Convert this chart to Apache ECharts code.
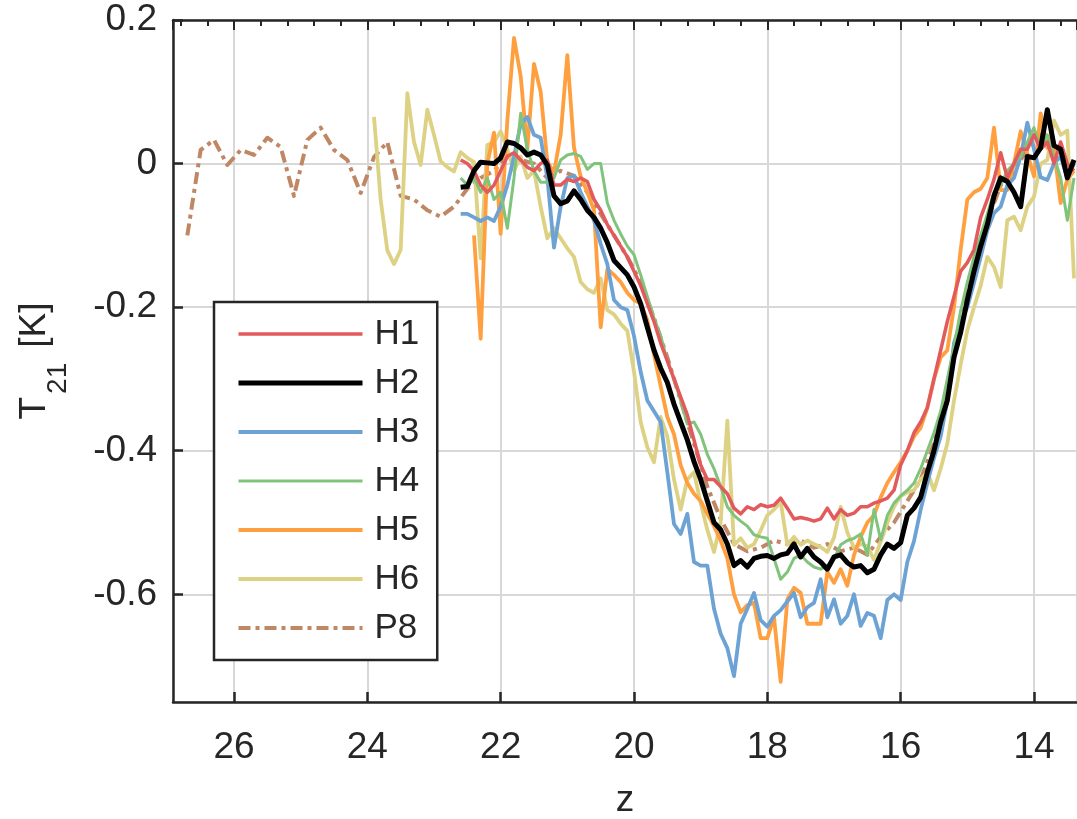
<!DOCTYPE html>
<html>
<head>
<meta charset="utf-8">
<title>T21 vs z</title>
<script src="https://cdn.jsdelivr.net/npm/echarts@6/dist/echarts.min.js"></script>
<style>
  html, body { margin: 0; padding: 0; background: #fff; }
  #chart { width: 1077px; height: 819px; }
</style>
</head>
<body>
<div id="chart"></div>
<script>
// redshift samples (fine grid for H runs, coarser one for P8)
const zFine = [23.9, 23.8, 23.7, 23.6, 23.5, 23.4, 23.3, 23.2, 23.1, 23.0,
  22.9, 22.8, 22.7, 22.6, 22.5, 22.4, 22.3, 22.2, 22.1, 22.0,
  21.9, 21.8, 21.7, 21.6, 21.5, 21.4, 21.3, 21.2, 21.1, 21.0,
  20.9, 20.8, 20.7, 20.6, 20.5, 20.4, 20.3, 20.2, 20.1, 20.0,
  19.9, 19.8, 19.7, 19.6, 19.5, 19.4, 19.3, 19.2, 19.1, 19.0,
  18.9, 18.8, 18.7, 18.6, 18.5, 18.4, 18.3, 18.2, 18.1, 18.0,
  17.9, 17.8, 17.7, 17.6, 17.5, 17.4, 17.3, 17.2, 17.1, 17.0,
  16.9, 16.8, 16.7, 16.6, 16.5, 16.4, 16.3, 16.2, 16.1, 16.0,
  15.9, 15.8, 15.7, 15.6, 15.5, 15.4, 15.3, 15.2, 15.1, 15.0,
  14.9, 14.8, 14.7, 14.6, 14.5, 14.4, 14.3, 14.2, 14.1, 14.0,
  13.9, 13.8, 13.7, 13.6, 13.5, 13.4];
const zH = zFine.slice(13); // 22.6 .. 13.4

const zP8 = [26.7, 26.5, 26.3, 26.1, 25.9, 25.7, 25.5, 25.3, 25.1, 24.9,
  24.7, 24.5, 24.3, 24.1, 23.9, 23.7, 23.5, 23.3, 23.1, 22.9,
  22.7, 22.5, 22.3, 22.1, 21.9, 21.7, 21.5, 21.3, 21.1, 20.9,
  20.7, 20.5, 20.3, 20.1, 19.9, 19.7, 19.5, 19.3, 19.1, 18.9,
  18.7, 18.5, 18.3, 18.1, 17.9, 17.7, 17.5, 17.3, 17.1, 16.9,
  16.7, 16.5, 16.3, 16.1, 15.9, 15.7, 15.5, 15.3, 15.1, 14.9,
  14.7, 14.5, 14.3, 14.1, 13.9, 13.7, 13.5];

// T21 [K] values
const h1 = [0.005, 0.0, -0.01, -0.03, -0.04, -0.03, -0.01, 0.01, 0.015, 0.005,
  -0.005, -0.01, 0.0, 0.005, -0.03, -0.03, -0.022, -0.025, -0.02, -0.025,
  -0.05, -0.065, -0.085, -0.1, -0.115, -0.13, -0.15, -0.17, -0.195, -0.22,
  -0.25, -0.275, -0.3, -0.325, -0.35, -0.385, -0.42, -0.44, -0.44, -0.45,
  -0.46, -0.48, -0.488, -0.478, -0.482, -0.475, -0.478, -0.476, -0.466, -0.48,
  -0.495, -0.493, -0.495, -0.498, -0.495, -0.48, -0.495, -0.482, -0.49, -0.487,
  -0.478, -0.478, -0.473, -0.47, -0.466, -0.455, -0.42, -0.4, -0.375, -0.36,
  -0.34, -0.3, -0.26, -0.22, -0.185, -0.15, -0.138, -0.12, -0.075, -0.05,
  -0.022, 0.015, -0.02, 0.0, 0.02, 0.02, 0.04, 0.02, 0.03, 0.0,
  0.03, 0.0, -0.01];

const h2 = [-0.033, -0.032, -0.01, 0.002, 0.001, 0.0, 0.008, 0.03, 0.028, 0.022,
  0.012, 0.016, 0.012, -0.002, -0.045, -0.056, -0.052, -0.038, -0.05, -0.065,
  -0.075, -0.09, -0.11, -0.135, -0.145, -0.155, -0.172, -0.195, -0.228, -0.26,
  -0.285, -0.305, -0.335, -0.36, -0.385, -0.415, -0.44, -0.47, -0.5, -0.51,
  -0.53, -0.56, -0.553, -0.562, -0.55, -0.547, -0.546, -0.55, -0.545, -0.543,
  -0.53, -0.548, -0.536, -0.548, -0.555, -0.565, -0.548, -0.545, -0.556, -0.562,
  -0.56, -0.57, -0.565, -0.545, -0.53, -0.536, -0.528, -0.49, -0.48, -0.465,
  -0.43, -0.4, -0.36, -0.33, -0.27, -0.235, -0.19, -0.15, -0.115, -0.085,
  -0.045, -0.02, -0.025, -0.04, -0.06, 0.01, 0.008, 0.022, 0.075, 0.025,
  0.02, -0.02, 0.005];

const h3 = [-0.07, -0.07, -0.075, -0.08, -0.075, -0.08, -0.06, -0.03, 0.01, 0.055,
  0.065, 0.04, 0.036, -0.02, -0.117, -0.06, -0.02, -0.017, -0.04, -0.06,
  -0.079, -0.112, -0.14, -0.19, -0.2, -0.204, -0.24, -0.29, -0.33, -0.345,
  -0.36, -0.43, -0.502, -0.516, -0.488, -0.555, -0.56, -0.56, -0.62, -0.655,
  -0.675, -0.714, -0.641, -0.62, -0.598, -0.636, -0.645, -0.63, -0.622, -0.61,
  -0.598, -0.632, -0.618, -0.612, -0.579, -0.632, -0.607, -0.641, -0.63, -0.6,
  -0.644, -0.626, -0.63, -0.661, -0.608, -0.6, -0.608, -0.555, -0.526, -0.482,
  -0.445, -0.41, -0.38, -0.33, -0.25, -0.22, -0.2, -0.166, -0.13, -0.093,
  -0.069, -0.06, -0.03, -0.02, 0.01, 0.057, 0.02, -0.019, -0.023, 0.0,
  0.01, -0.02, 0.0];

const h4 = [-0.02, -0.03, -0.02, -0.04, -0.02, -0.05, -0.04, -0.09, -0.02, 0.07,
  0.02, -0.01, -0.026, -0.026, -0.02, 0.005, 0.012, 0.014, 0.01, -0.008,
  0.0, 0.0, -0.055, -0.079, -0.098, -0.115, -0.127, -0.155, -0.185, -0.215,
  -0.24, -0.275, -0.3, -0.33, -0.363, -0.36, -0.377, -0.405, -0.425, -0.45,
  -0.478, -0.49, -0.498, -0.505, -0.517, -0.52, -0.522, -0.55, -0.579, -0.569,
  -0.55, -0.545, -0.555, -0.562, -0.565, -0.56, -0.551, -0.531, -0.525, -0.522,
  -0.516, -0.545, -0.482, -0.524, -0.49, -0.473, -0.463, -0.455, -0.445, -0.425,
  -0.4, -0.375, -0.345, -0.3, -0.255, -0.205, -0.165, -0.13, -0.1, -0.07,
  -0.04, -0.03, -0.01, 0.0, 0.01, 0.03, 0.05, 0.02, 0.04, 0.01,
  -0.02, -0.079, -0.02];

const h5 = [null, null, -0.1, -0.244, 0.0, 0.043, -0.098, 0.06, 0.175, 0.122,
  0.02, 0.139, 0.1, 0.002, -0.012, 0.04, 0.151, 0.022, -0.018, -0.04,
  -0.065, -0.228, -0.147, -0.155, -0.165, -0.18, -0.19, -0.195, -0.218, -0.266,
  -0.31, -0.353, -0.377, -0.42, -0.445, -0.46, -0.47, -0.488, -0.505, -0.525,
  -0.55, -0.6, -0.625, -0.615, -0.612, -0.661, -0.661, -0.632, -0.722, -0.607,
  -0.591, -0.598, -0.641, -0.641, -0.641, -0.569, -0.584, -0.565, -0.588, -0.545,
  -0.52, -0.5, -0.49, -0.465, -0.445, -0.43, -0.416, -0.4, -0.38, -0.368,
  -0.34, -0.3, -0.27, -0.26, -0.2, -0.12, -0.05, -0.04, -0.035, -0.02,
  0.05, -0.037, -0.037, 0.0, 0.045, 0.014, -0.018, 0.07, 0.022, 0.02,
  -0.055, -0.022, -0.01];

const h6 = [0.065, -0.05, -0.121, -0.14, -0.12, 0.098, 0.03, -0.002, 0.075, 0.04,
  0.003, -0.005, -0.011, 0.016, 0.008, 0.002, -0.132, 0.026, 0.03, 0.045,
  0.02, -0.01, 0.01, -0.02, -0.01, -0.06, -0.104, -0.09, -0.104, -0.118,
  -0.13, -0.165, -0.175, -0.18, -0.16, -0.204, -0.21, -0.223, -0.233, -0.29,
  -0.36, -0.395, -0.416, -0.353, -0.38, -0.44, -0.482, -0.44, -0.43, -0.473,
  -0.51, -0.541, -0.5, -0.358, -0.531, -0.522, -0.535, -0.53, -0.511, -0.49,
  -0.482, -0.471, -0.531, -0.52, -0.531, -0.525, -0.53, -0.534, -0.541, -0.521,
  -0.478, -0.514, -0.535, -0.53, -0.533, -0.552, -0.527, -0.5, -0.478, -0.463,
  -0.458, -0.455, -0.44, -0.43, -0.455, -0.425, -0.39, -0.33, -0.28, -0.232,
  -0.2, -0.17, -0.13, -0.144, -0.172, -0.079, -0.074, -0.093, -0.06, -0.046,
  0.0, 0.005, 0.06, 0.04, 0.046, -0.16];

const p8 = [-0.1, 0.019, 0.033, -0.002, 0.019, 0.012, 0.036, 0.023, -0.045, 0.033,
  0.05, 0.019, 0.005, -0.041, 0.009, 0.03, -0.045, -0.05, -0.065, -0.074,
  -0.06, -0.035, -0.02, -0.01, 0.01, 0.005, 0.0, -0.02, -0.01, -0.017,
  -0.04, -0.07, -0.1, -0.13, -0.165, -0.215, -0.27, -0.33, -0.39, -0.45,
  -0.495, -0.53, -0.54, -0.535, -0.525, -0.53, -0.525, -0.535, -0.53, -0.54,
  -0.535, -0.545, -0.52, -0.5, -0.47, -0.44, -0.39, -0.32, -0.22, -0.14,
  -0.08, -0.03, -0.01, 0.02, 0.04, 0.03, 0.0];

const legendNames = ['H1', 'H2', 'H3', 'H4', 'H5', 'H6', 'P8'];

const FONT = "'Liberation Sans', Arial, sans-serif";
const INK = '#262626';

function pairs(zs, vs) {
  return zs.map((z, i) => [z, vs[i]]);
}

function line(name, zs, vs, color, width, dash) {
  return {
    name: name,
    type: 'line',
    data: pairs(zs, vs),
    symbol: 'none',
    connectNulls: false,
    lineStyle: { color: color, width: width, type: dash || 'solid', join: 'round' },
    itemStyle: { color: color },
    emphasis: { disabled: true }
  };
}

const chart = echarts.init(document.getElementById('chart'));

chart.setOption({
  animation: false,
  backgroundColor: '#fff',
  textStyle: { fontFamily: FONT },
  grid: { left: 173, right: 0, top: 20, bottom: 117, containLabel: false, outerBoundsMode: 'none' },
  xAxis: [{
    type: 'value',
    inverse: true,
    min: 13.355,
    max: 26.915,
    splitNumber: 7,
    name: 'z',
    nameLocation: 'middle',
    nameGap: 80,
    nameTextStyle: { fontSize: 37, color: INK, fontFamily: FONT },
    axisLine: { onZero: false, lineStyle: { color: INK, width: 2.5 } },
    axisTick: { inside: true, length: 10, lineStyle: { color: INK, width: 2.5 } },
    axisLabel: {
      showMinLabel: false, showMaxLabel: false,
      fontSize: 37, color: INK, margin: 27, fontFamily: FONT
    },
    splitLine: { show: true, lineStyle: { color: '#d8d8d8', width: 2 } }
  }, {
    type: 'value',
    position: 'top',
    inverse: true,
    min: 13.355,
    max: 26.915,
    splitNumber: 7,
    axisLine: { onZero: false, lineStyle: { color: INK, width: 2.5 } },
    axisTick: { inside: true, length: 10, lineStyle: { color: INK, width: 2 } },
    minorTick: { show: true, splitNumber: 5, length: 6, lineStyle: { color: INK, width: 2 } },
    axisLabel: { show: false },
    splitLine: { show: false }
  }],
  yAxis: {
    type: 'value',
    min: -0.75,
    max: 0.2,
    splitNumber: 5,
    name: '{t|T}{s|21}{k|[K]}',
    nameLocation: 'middle',
    nameRotate: 90,
    nameGap: 117,
    nameTextStyle: {
      color: INK,
      fontFamily: FONT,
      rich: {
        t: { fontSize: 37, lineHeight: 40, verticalAlign: 'top', color: INK, fontFamily: FONT },
        s: { fontSize: 28, lineHeight: 40, verticalAlign: 'top', padding: [28, 0, 0, 3], color: INK, fontFamily: FONT },
        k: { fontSize: 37, lineHeight: 40, verticalAlign: 'top', padding: [0, 0, 0, 15], color: INK, fontFamily: FONT }
      }
    },
    axisLine: { show: true, onZero: false, lineStyle: { color: INK, width: 2.5 } },
    axisTick: { show: true, inside: true, length: 10, lineStyle: { color: INK, width: 2.5 } },
    axisLabel: { showMinLabel: false, fontSize: 37, color: INK, margin: 16, fontFamily: FONT },
    splitLine: { show: true, lineStyle: { color: '#d8d8d8', width: 2 } }
  },
  legend: {
    data: legendNames,
    orient: 'vertical',
    left: 214,
    top: 302,
    padding: [12, 18, 12, 22],
    itemGap: 9,
    itemWidth: 124,
    itemHeight: 14,
    selectedMode: false,
    itemStyle: { opacity: 0 },
    lineStyle: { width: 'inherit' },
    backgroundColor: '#fff',
    borderColor: INK,
    borderWidth: 2.5,
    borderRadius: 0,
    textStyle: { fontSize: 35, color: INK, lineHeight: 40, padding: [0, 0, 0, 7], fontFamily: FONT }
  },
  series: [
    line('P8', zP8, p8, '#c08764', 4, [12, 5, 4, 5]),
    line('H6', zFine, h6, '#ddd283', 3.8),
    line('H5', zH, h5, '#ffa040', 3.8),
    line('H3', zH, h3, '#6ca3d4', 3.8),
    line('H4', zH, h4, '#80c47c', 3),
    line('H1', zH, h1, '#e35a5c', 3.5),
    line('H2', zH, h2, '#000000', 5)
  ]
});
</script>
</body>
</html>
